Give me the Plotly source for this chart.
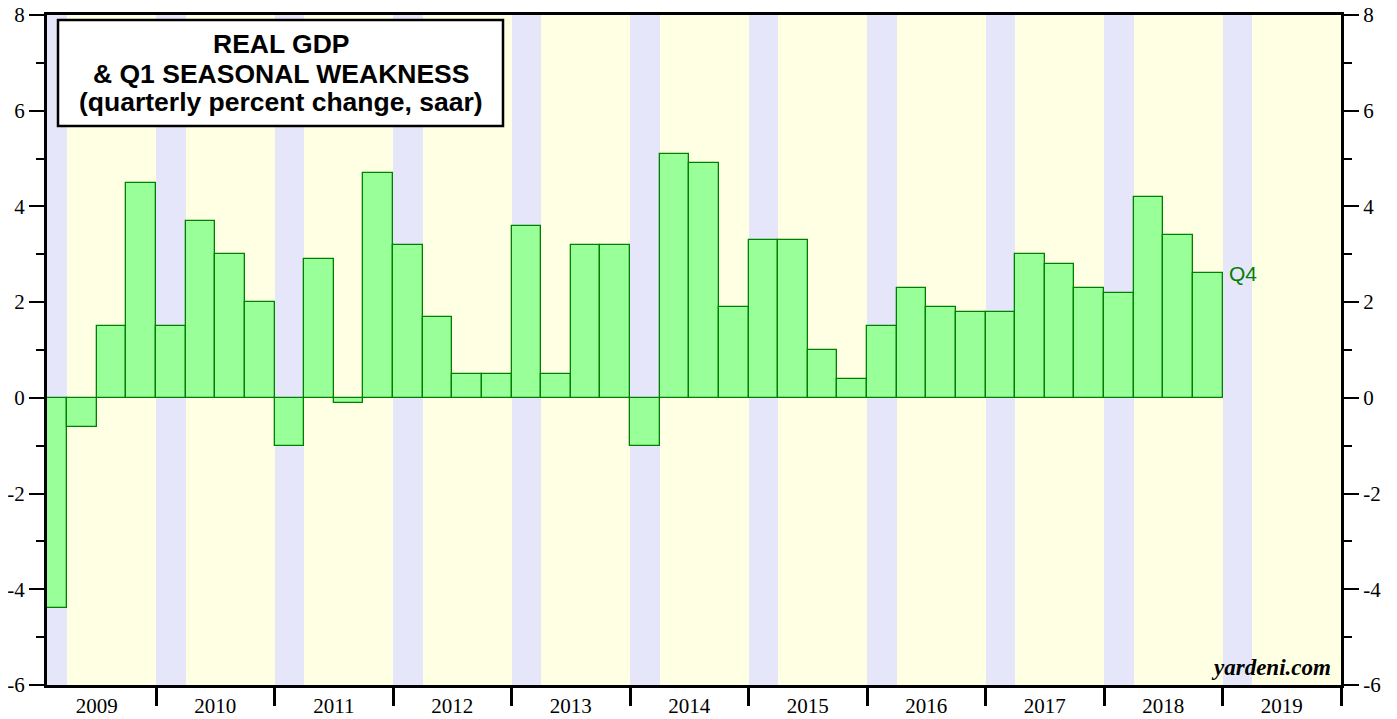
import plotly.graph_objects as go

years = list(range(2009, 2020))
quarters = [f"{y}Q{q}" for y in range(2009, 2019) for q in range(1, 5)]
gdp = [-4.4, -0.6, 1.5, 4.5,
       1.5, 3.7, 3.0, 2.0,
       -1.0, 2.9, -0.1, 4.7,
       3.2, 1.7, 0.5, 0.5,
       3.6, 0.5, 3.2, 3.2,
       -1.0, 5.1, 4.9, 1.9,
       3.3, 3.3, 1.0, 0.4,
       1.5, 2.3, 1.9, 1.8,
       1.8, 3.0, 2.8, 2.3,
       2.2, 4.2, 3.4, 2.6]
y_ticks = [-6, -4, -2, 0, 2, 4, 6, 8]
y_ticktext = ["-6", "-4", "-2", "0", "2", "4", "6", "8"]

title_lines = ["REAL GDP", "& Q1 SEASONAL WEAKNESS", "(quarterly percent change, saar)"]

BLUE = "#E6E6FA"
YELLOW = "#FFFFE3"
GREEN_FILL = "#99FF99"
GREEN_LINE = "#008000"
YMIN, YMAX = -6, 8

# page body has an 8px margin; compensate so the plot lands where the reference has it
OFF = 8
W, H = 1397 - OFF, 719 - OFF
ML, MT = 47 - OFF, 15 - OFF
PW, PH = 1294, 670
MR, MB = W - ML - PW, H - MT - PH

def px_x(p):  # window pixel -> paper
    return (p - OFF - ML) / PW

def px_y(p):
    return (MT + PH - (p - OFF)) / PH

qx = [int(q[:4]) + (int(q[-1]) - 0.5) * 0.25 for q in quarters]

fig = go.Figure()
fig.add_trace(go.Bar(x=[y + 0.125 for y in years], y=[YMAX - YMIN] * len(years), base=YMIN,
                     width=0.25, marker=dict(color=BLUE, line=dict(width=0)),
                     hoverinfo="skip", showlegend=False))
fig.add_trace(go.Bar(x=[y + 0.625 for y in years], y=[YMAX - YMIN] * len(years), base=YMIN,
                     width=0.75, marker=dict(color=YELLOW, line=dict(width=0)),
                     hoverinfo="skip", showlegend=False))
fig.add_trace(go.Bar(x=qx, y=gdp, width=0.25,
                     marker=dict(color=GREEN_FILL, line=dict(color=GREEN_LINE, width=1.3)),
                     showlegend=False, name="Real GDP"))
fig.add_trace(go.Scatter(x=[qx[0]], y=[0], yaxis="y2", mode="markers",
                         marker=dict(opacity=0), hoverinfo="skip", showlegend=False))

fig.add_hline(y=0, line=dict(color="black", width=1.2), layer="above")

tickfont = dict(family="Liberation Serif", size=21, color="black")

yax_common = dict(range=[YMIN, YMAX], showgrid=False, zeroline=False, automargin=False,
                  tickvals=y_ticks, ticktext=y_ticktext, ticks="outside", ticklen=15,
                  tickwidth=1.5, tickcolor="black", tickfont=tickfont, showline=True,
                  linecolor="black", linewidth=3, ticklabeloverflow="allow",
                  minor=dict(dtick=1, ticks="outside", ticklen=8, tickwidth=1.5,
                             tickcolor="black", showgrid=False))

annotations = []
line_centers = [44.5, 73.5, 101.5]
for txt, yc in zip(title_lines, line_centers):
    annotations.append(dict(text=f"<b>{txt}</b>", xref="paper", yref="paper",
                            x=px_x(280.5), y=px_y(yc), xanchor="center", yanchor="middle",
                            showarrow=False,
                            font=dict(family="Liberation Sans", size=26.5, color="black")))
annotations += [
    dict(text="Q4", x=qx[-1] + 0.125, y=gdp[-1], xref="x", yref="y",
         xanchor="left", yanchor="middle", xshift=4, showarrow=False,
         font=dict(family="Liberation Sans", size=21, color=GREEN_LINE)),
    dict(text="<b><i>yardeni.com</i></b>", xref="paper", yref="paper",
         x=px_x(1333), y=px_y(682), xanchor="right", yanchor="bottom", showarrow=False,
         font=dict(family="Liberation Serif", size=23, color="black")),
]

fig.update_layout(
    width=W, height=H,
    margin=dict(l=ML, r=MR, t=MT, b=MB, autoexpand=False),
    paper_bgcolor="white", plot_bgcolor="white",
    barmode="overlay", bargap=0,
    xaxis=dict(range=[2009.08, 2020.0], showgrid=False, zeroline=False, automargin=False,
               tickvals=[y + 0.5 for y in years], ticktext=[str(y) for y in years],
               ticks="", tickfont=tickfont, showline=True, linecolor="black",
               linewidth=3, mirror=True, ticklabeloverflow="allow",
               minor=dict(tickvals=[y for y in range(2010, 2021)], ticks="outside",
                          ticklen=18, tickwidth=3, tickcolor="black")),
    yaxis=yax_common,
    yaxis2=dict(overlaying="y", side="right", **yax_common),
    shapes=[dict(type="rect", xref="paper", yref="paper",
                 x0=px_x(58), x1=px_x(503), y0=px_y(20), y1=px_y(126),
                 fillcolor="white", line=dict(color="black", width=2.5), layer="above")],
    annotations=annotations,
)

fig.write_html("out.html")
